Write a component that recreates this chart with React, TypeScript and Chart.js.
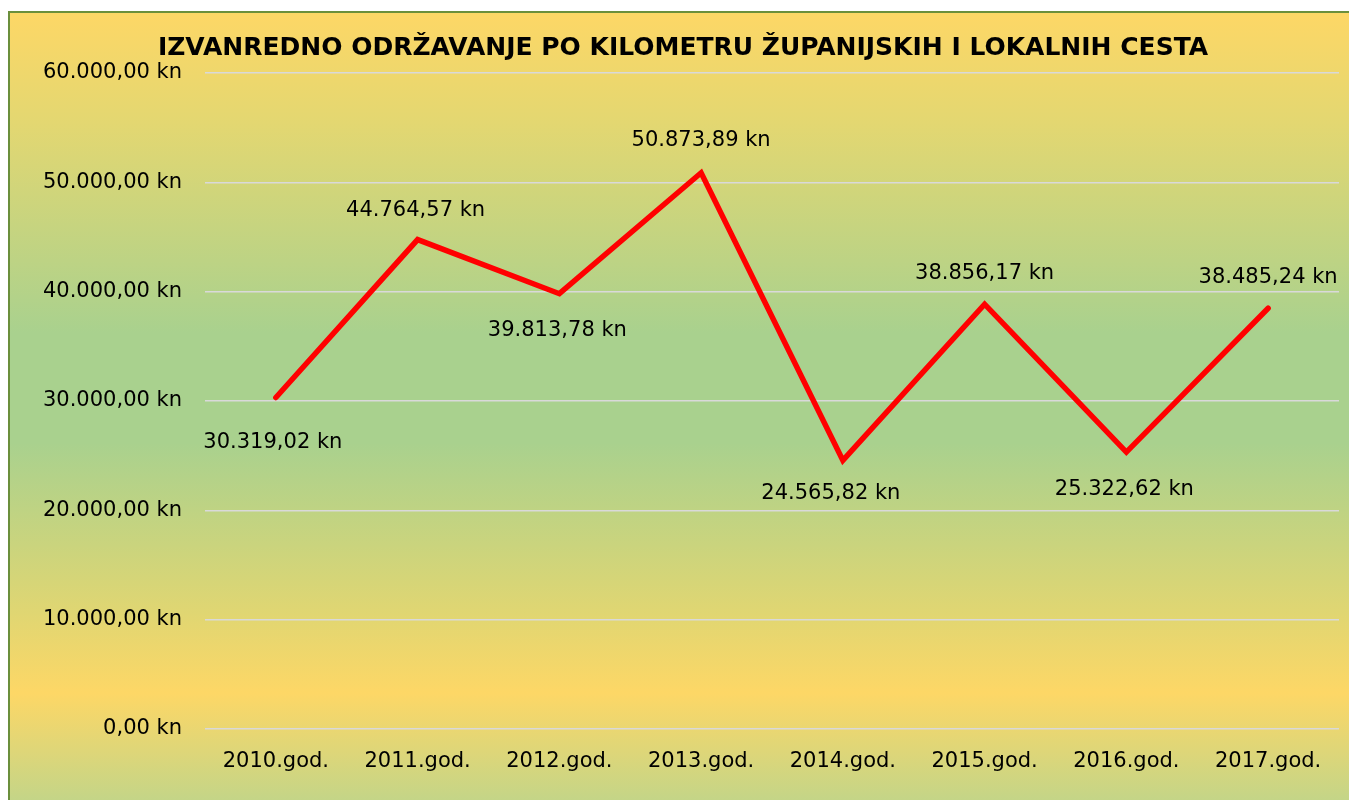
import React, { useEffect, useRef } from "react";
import { Chart, registerables } from "chart.js";

Chart.register(...registerables);

const TITLE = "IZVANREDNO ODRŽAVANJE PO KILOMETRU ŽUPANIJSKIH I LOKALNIH CESTA";
const categories = ["2010.god.", "2011.god.", "2012.god.", "2013.god.", "2014.god.", "2015.god.", "2016.god.", "2017.god."];
const values = [30319.02, 44764.57, 39813.78, 50873.89, 24565.82, 38856.17, 25322.62, 38485.24];
const yTicks = [0, 10000, 20000, 30000, 40000, 50000, 60000];

// data label offsets (style only)
const labelDx = [-3, -2, -2, 0, -12, 0, -2, 0];
const labelDy = [45, -29, 37, -32, 33, -31, 37, -31];

const FONT = '"DejaVu Sans", Verdana, sans-serif';

function fmtKn(v: number): string {
  const neg = v < 0;
  const abs = Math.abs(v);
  const fixed = abs.toFixed(2);
  const [intPart, dec] = fixed.split(".");
  const withDots = intPart.replace(/\B(?=(\d{3})+(?!\d))/g, ".");
  return (neg ? "-" : "") + withDots + "," + dec + " kn";
}

const titlePlugin = {
  id: "customTitle",
  afterDraw(chart: any) {
    const ctx = chart.ctx;
    ctx.save();
    ctx.font = `bold 25px ${FONT}`;
    ctx.fillStyle = "#000000";
    ctx.textAlign = "center";
    ctx.textBaseline = "middle";
    ctx.fillText(TITLE, 673, 35);
    ctx.restore();
  },
};

const dataLabelPlugin = {
  id: "dataLabels",
  afterDatasetsDraw(chart: any) {
    const ctx = chart.ctx;
    const meta = chart.getDatasetMeta(0);
    ctx.save();
    ctx.font = `21px ${FONT}`;
    ctx.fillStyle = "#000000";
    ctx.textAlign = "center";
    ctx.textBaseline = "middle";
    meta.data.forEach((el: any, i: number) => {
      ctx.fillText(fmtKn(values[i]), el.x + labelDx[i], el.y + labelDy[i]);
    });
    ctx.restore();
  },
};

export default function App() {
  const canvasRef = useRef<HTMLCanvasElement | null>(null);

  useEffect(() => {
    if (!canvasRef.current) return;
    const chart = new Chart(canvasRef.current, {
      type: "line",
      data: {
        labels: categories,
        datasets: [
          {
            data: values,
            borderColor: "#FF0000",
            borderWidth: 5.5,
            borderCapStyle: "round",
            borderJoinStyle: "miter",
            pointRadius: 0,
            pointHoverRadius: 0,
            fill: false,
            tension: 0,
          },
        ],
      },
      options: {
        animation: false,
        responsive: false,
        maintainAspectRatio: false,
        events: [],
        layout: { padding: { top: 60, right: 10, bottom: 0, left: 0 } },
        plugins: {
          legend: { display: false },
          title: { display: false },
          tooltip: { enabled: false },
        },
        scales: {
          x: {
            offset: true,
            grid: { display: false, drawTicks: false },
            border: { display: false },
            ticks: {
              padding: 20,
              color: "#000000",
              font: { family: FONT, size: 21 },
              maxRotation: 0,
              autoSkip: false,
            },
            afterFit(scale: any) {
              scale.height = 71;
            },
          },
          y: {
            min: 0,
            max: 60000,
            afterBuildTicks(scale: any) {
              scale.ticks = yTicks.map((v) => ({ value: v }));
            },
            grid: { color: "#D9D9D9", lineWidth: 1.5, drawTicks: false },
            border: { display: false },
            ticks: {
              padding: 23,
              color: "#000000",
              font: { family: FONT, size: 21 },
              callback: (v: any) => fmtKn(Number(v)),
            },
            afterFit(scale: any) {
              scale.width = 195;
            },
          },
        },
      },
      plugins: [titlePlugin, dataLabelPlugin],
    });
    return () => chart.destroy();
  }, []);

  return (
    <div
      style={{
        position: "absolute",
        left: 8,
        top: 11,
        width: 1341,
        height: 789,
        overflow: "hidden",
        boxSizing: "border-box",
        borderLeft: "2px solid #6B8F3C",
        borderTop: "2px solid #6B8F3C",
        background:
          "linear-gradient(to bottom, #FDD766 0px, #E3D771 110px, #A9D18E 320px, #A9D18E 430px, #E0D672 600px, #FDD766 680px, #C3D588 789px)",
      }}
    >
      <canvas ref={canvasRef} width={1339} height={787} style={{ display: "block" }} />
    </div>
  );
}
